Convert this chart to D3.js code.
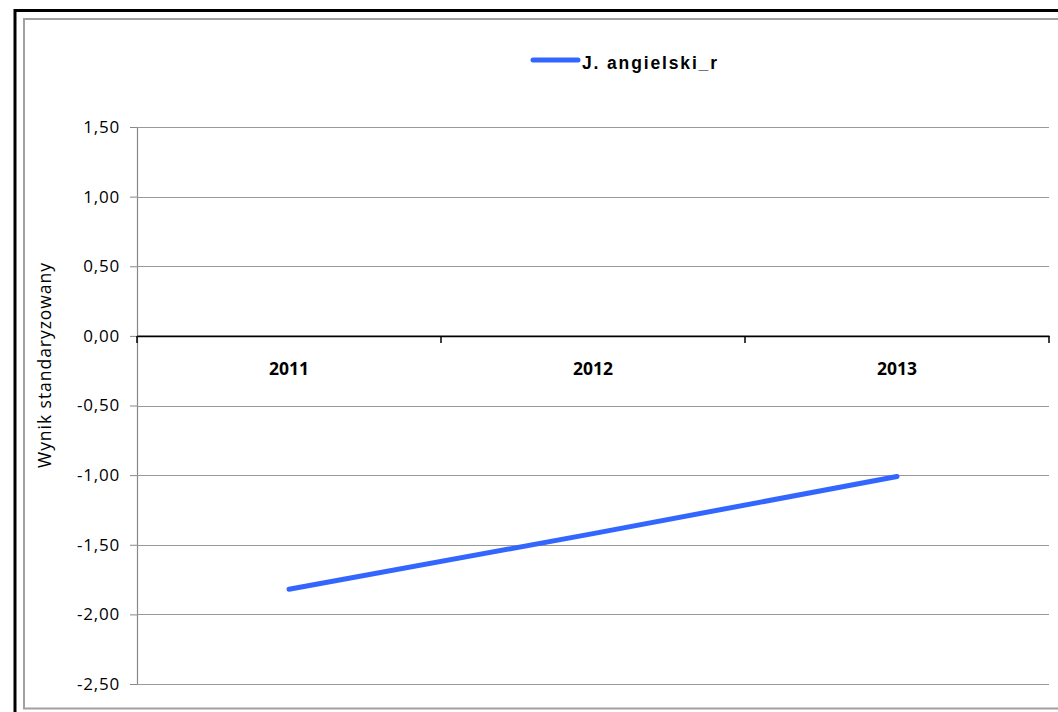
<!DOCTYPE html>
<html><head><meta charset="utf-8">
<script src="https://cdn.jsdelivr.net/npm/d3@7"></script>
<style>body{margin:0;background:#fff}svg{display:block}</style>
</head><body>
<svg id="c" width="1058" height="712"></svg>
<script>
const categories = ["2011", "2012", "2013"];
const seriesName = "J. angielski_r";
const values = [-1.82, -1.42, -1.01];
const yTicks = [1.5, 1.0, 0.5, 0.0, -0.5, -1.0, -1.5, -2.0, -2.5];
const yTitle = "Wynik standaryzowany";

const svg = d3.select("#c");
const fmt = v => d3.format(".2f")(v).replace(".", ",").replace("−", "-");

// frames
svg.append("rect").attr("x", 15).attr("y", 10.5).attr("width", 1200).attr("height", 900)
  .attr("fill", "none").attr("stroke", "#000").attr("stroke-width", 3);
svg.append("rect").attr("x", 24).attr("y", 19).attr("width", 1200).attr("height", 689.5)
  .attr("fill", "none").attr("stroke", "#a0a0a0").attr("stroke-width", 2);

const x0 = 137, x1 = 1049;
const y = d3.scaleLinear().domain([-2.5, 1.5]).range([684, 127]);
const x = d3.scaleBand().domain(categories).range([x0, x1]);

// gridlines + y axis
const yAxis = d3.axisLeft(y).tickValues(yTicks).tickFormat(fmt).tickSize(7).tickPadding(10);
const gy = svg.append("g").attr("transform", `translate(${x0},0)`).call(yAxis);
gy.select(".domain").attr("stroke", "#888").attr("stroke-width", 1.2);
gy.selectAll(".tick line").attr("stroke", "#888");
gy.selectAll(".tick text").attr("font-family", "'Open Sans'").attr("font-size", 17)
  .attr("fill", "#000").attr("letter-spacing", 0.8);
svg.append("g").selectAll("line").data(yTicks.filter(d => d !== 0)).join("line")
  .attr("x1", x0).attr("x2", x1).attr("y1", d => Math.round(y(d)) + 0.5).attr("y2", d => Math.round(y(d)) + 0.5)
  .attr("stroke", "#999").attr("stroke-width", 1.2);

// x axis at zero
const xAxis = d3.axisBottom(x).tickSize(0).tickPadding(27);
const gx = svg.append("g").attr("transform", `translate(0,${y(0)})`).call(xAxis);
gx.select(".domain").attr("stroke", "#000").attr("stroke-width", 1.8);
gx.selectAll(".tick text").attr("font-family", "'Open Sans'").attr("font-weight", "bold")
  .attr("font-size", 17.5).attr("fill", "#000");
// band boundary ticks
const bounds = categories.map(c => x(c)).concat([x1]);
svg.append("g").selectAll("line").data(bounds).join("line")
  .attr("x1", d => d).attr("x2", d => d).attr("y1", y(0)).attr("y2", y(0) + 7)
  .attr("stroke", "#000").attr("stroke-width", 1.5);

// y title
svg.append("text").attr("transform", `translate(51,${365.5}) rotate(-90)`)
  .attr("text-anchor", "middle").attr("font-family", "'Open Sans'").attr("font-size", 17.5)
  .attr("textLength", 205).attr("lengthAdjust", "spacing").text(yTitle);

// series line
const line = d3.line().x((d, i) => x(categories[i]) + x.bandwidth() / 2).y(d => y(d));
svg.append("path").datum(values).attr("d", line).attr("fill", "none")
  .attr("stroke", "#3366ff").attr("stroke-width", 5).attr("stroke-linecap", "round");

// legend
svg.append("line").attr("x1", 533).attr("x2", 578).attr("y1", 60).attr("y2", 60)
  .attr("stroke", "#3366ff").attr("stroke-width", 5).attr("stroke-linecap", "round");
svg.append("text").attr("x", 582).attr("y", 69).attr("font-family", "'Liberation Sans'")
  .attr("font-weight", "bold").attr("font-size", 17.5).attr("textLength", 135)
  .attr("lengthAdjust", "spacing").text(seriesName);
</script>
</body></html>
